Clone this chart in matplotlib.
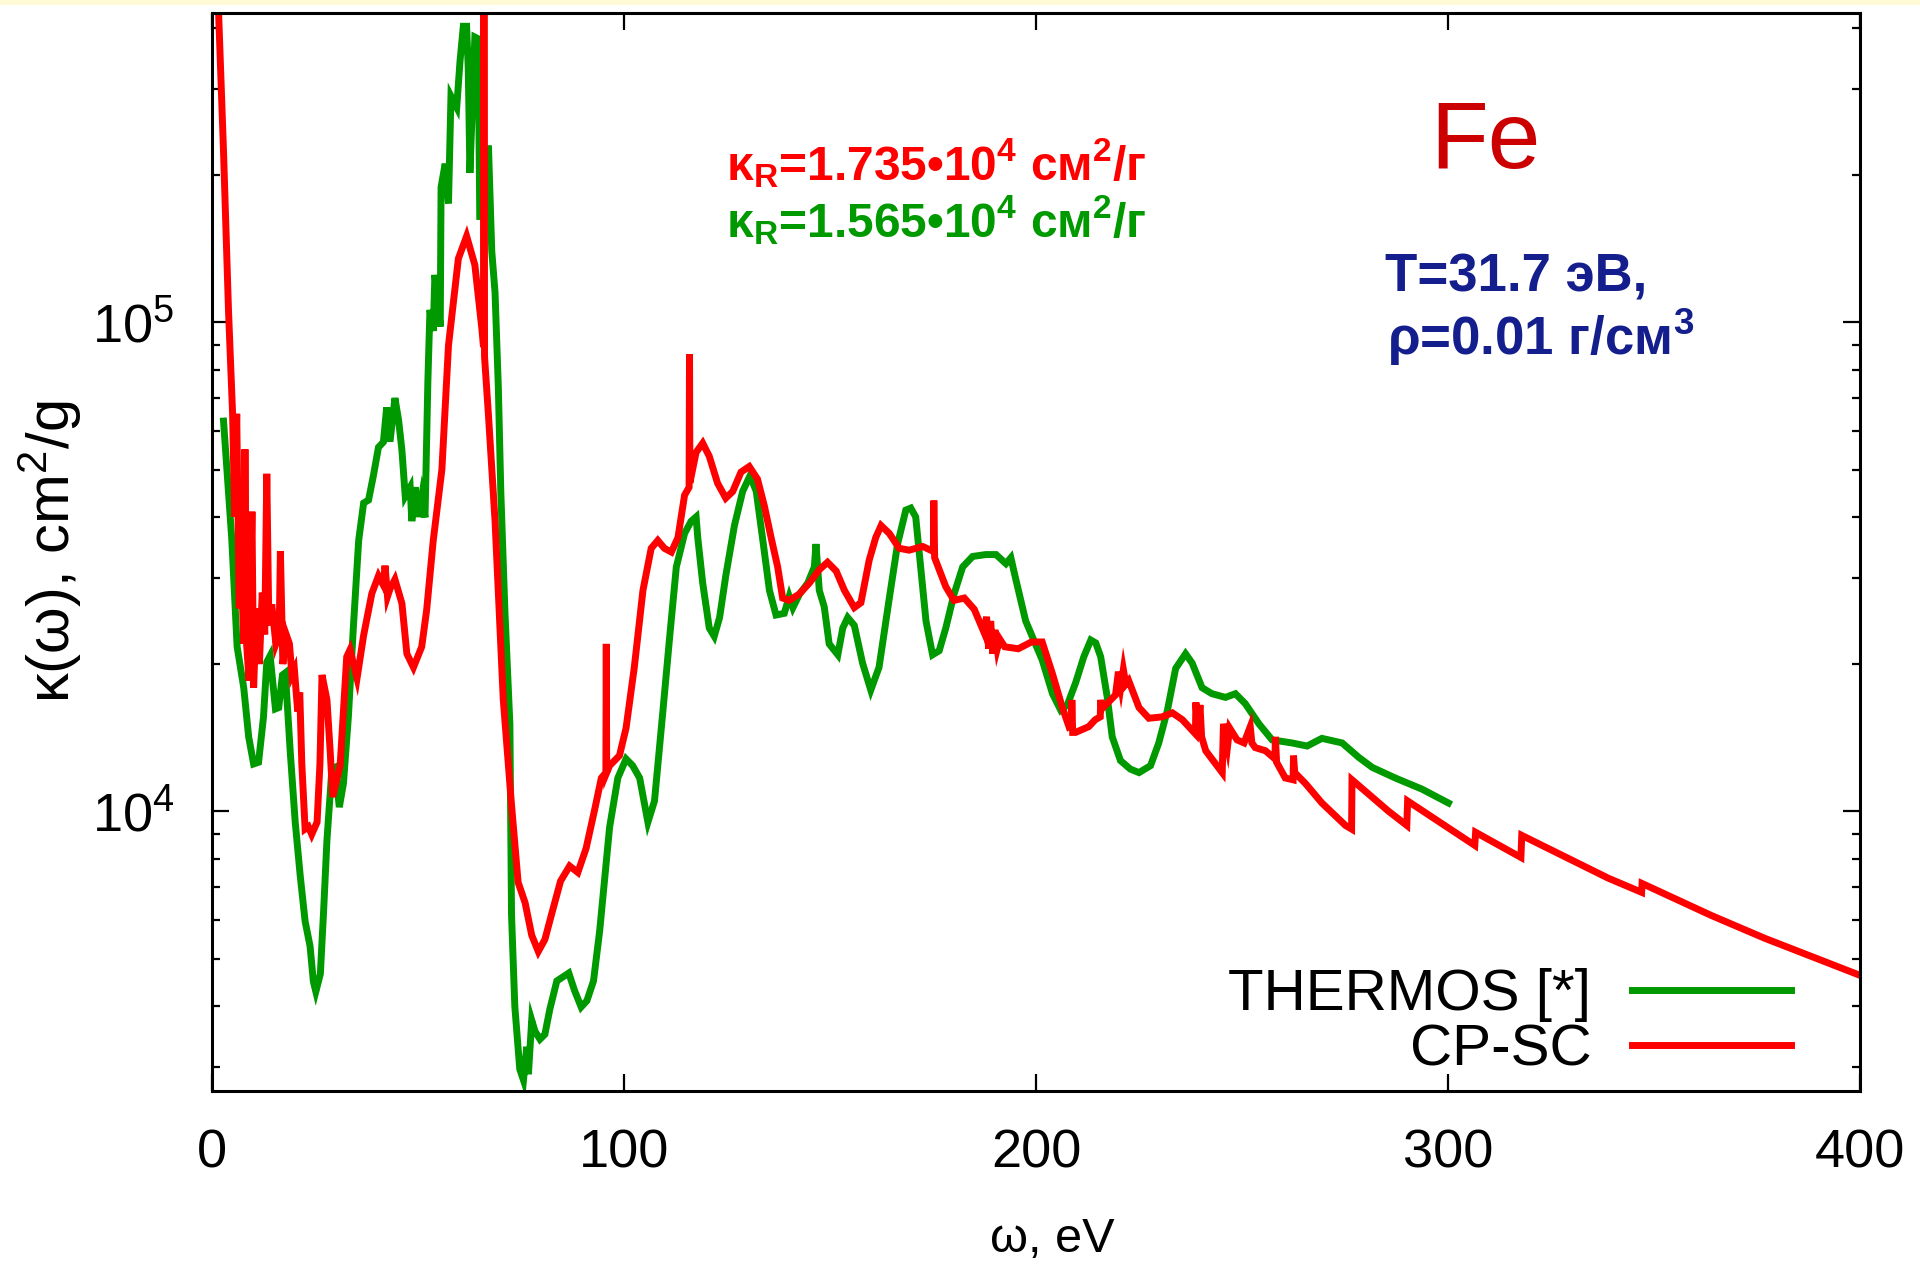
#Python script to redraw the Fe opacity comparison chart
import matplotlib
matplotlib.use('Agg')
import matplotlib.pyplot as plt
from matplotlib.ticker import LogLocator, NullFormatter, FixedLocator
from matplotlib.patches import Rectangle

# fonts
plt.rcParams['font.family'] = ['Liberation Sans', 'DejaVu Sans']
plt.rcParams['mathtext.fontset'] = 'custom'
plt.rcParams['mathtext.rm'] = 'Liberation Sans'
plt.rcParams['mathtext.it'] = 'Liberation Sans:italic'
plt.rcParams['mathtext.bf'] = 'Liberation Sans:bold'

# CP-SC curve (photon energy in eV, opacity in cm^2/g)
cpsc_ev = [0.8, 1.6, 2.8, 4.0, 5.0, 5.5, 6.0, 6.6, 7.2, 7.7, 8.0, 8.4, 9.0, 9.7, 10.1, 10.8,
           11.5, 12.2, 12.8, 13.3, 13.8, 14.5, 15.5, 16.3, 16.6, 17.2, 18.0, 18.8, 19.4, 20.0,
           20.8, 21.3, 21.8, 22.6, 23.4, 24.2, 25.5, 26.2, 26.7, 27.9, 28.7, 29.3, 31.1, 32.7,
           33.5, 35.2, 36.8, 38.8, 40.4, 41.6, 42.0, 42.6, 43.2, 44.4, 46.1, 47.3, 48.9, 50.9,
           52.1, 53.7, 55.8, 57.4, 59.8, 61.8, 63.8, 65.5, 65.9, 66.0, 66.15, 67.1, 68.7, 70.7,
           72.7, 74.3, 76.0, 77.6, 79.2, 80.8, 82.4, 84.6, 86.8, 88.8, 90.8, 92.9, 94.5, 95.6,
           95.7, 95.8, 96.5, 98.9, 100.5, 102.5, 104.6, 106.6, 108.2, 109.8, 111.5, 113.1,
           114.7, 115.8, 115.9, 116.0, 117.5, 119.1, 120.7, 122.7, 124.7, 126.4, 128.4, 130.4,
           132.4, 134.1, 135.7, 137.3, 138.5, 140.1, 142.5, 145.0, 147.4, 149.4, 151.5, 153.5,
           155.9, 157.5, 159.5, 161.1, 162.4, 164.4, 166.8, 169.2, 172.5, 175.1, 175.2, 175.4,
           178.1, 180.1, 182.6, 185.0, 187.4, 188.0, 188.5, 189.0, 189.5, 190.0, 190.6, 191.2,
           192.4, 195.7, 198.9, 201.5, 204.0, 206.4, 208.0, 208.6, 208.7, 208.9, 209.6, 212.8,
           214.4, 215.6, 215.7, 216.0, 219.3, 220.0, 220.6, 221.2, 221.8, 222.5, 225.0, 227.4,
           230.6, 233.1, 235.5, 238.7, 238.8, 239.3, 239.8, 240.2, 241.2, 245.2, 245.5, 246.5,
           247.0, 248.8, 250.5, 252.0, 252.4, 253.2, 255.7, 258.0, 258.1, 258.4, 260.5, 262.4,
           262.5, 262.8, 265.4, 269.4, 275.1, 276.6, 276.7, 285.6, 290.0, 290.2, 306.5, 306.7,
           317.7, 317.9, 338.9, 347.0, 347.1, 364.0, 376.9, 400.0]
cpsc_kappa = [8.0e5, 4.3e5, 2.23e5, 1.06e5, 6.5e4, 4.0e4, 6.5e4, 2.6e4, 3.0e4, 2.2e4, 5.5e4, 2.2e4,
              1.85e4, 4.1e4, 1.79e4, 2.6e4, 2.0e4, 2.8e4, 2.3e4, 4.9e4, 2.4e4, 2.65e4, 2.2e4,
              2.3e4, 3.4e4, 2.0e4, 2.3e4, 2.2e4, 1.9e4, 1.95e4, 1.6e4, 1.75e4, 1.25e4, 9.2e3,
              9.3e3, 8.97e3, 9.5e3, 1.25e4, 1.9e4, 1.69e4, 1.32e4, 1.07e4, 1.24e4, 2.07e4, 2.14e4,
              1.87e4, 2.29e4, 2.79e4, 3.03e4, 2.9e4, 3.18e4, 2.75e4, 2.85e4, 2.98e4, 2.66e4,
              2.1e4, 1.97e4, 2.17e4, 2.58e4, 3.58e4, 5.0e4, 8.97e4, 1.35e5, 1.5e5, 1.31e5, 9.7e4,
              8.9e4, 9.0e5, 8.5e4, 6.46e4, 3.92e4, 1.69e4, 1.03e4, 7.16e3, 6.5e3, 5.58e3, 5.17e3,
              5.47e3, 6.15e3, 7.2e3, 7.73e3, 7.5e3, 8.4e3, 1.01e4, 1.17e4, 1.2e4, 2.2e4, 1.2e4,
              1.24e4, 1.3e4, 1.48e4, 1.97e4, 2.83e4, 3.45e4, 3.58e4, 3.45e4, 3.39e4, 3.63e4,
              4.43e4, 4.6e4, 8.6e4, 4.7e4, 5.42e4, 5.66e4, 5.32e4, 4.69e4, 4.37e4, 4.51e4, 4.94e4,
              5.07e4, 4.78e4, 4.2e4, 3.63e4, 3.16e4, 2.73e4, 2.7e4, 2.78e4, 2.93e4, 3.12e4,
              3.23e4, 3.1e4, 2.83e4, 2.61e4, 2.67e4, 3.26e4, 3.63e4, 3.84e4, 3.7e4, 3.45e4,
              3.42e4, 3.48e4, 3.4e4, 4.32e4, 3.3e4, 2.88e4, 2.7e4, 2.73e4, 2.59e4, 2.32e4, 2.5e4,
              2.15e4, 2.45e4, 2.1e4, 2.35e4, 2.15e4, 2.25e4, 2.17e4, 2.15e4, 2.22e4, 2.22e4,
              1.91e4, 1.63e4, 1.49e4, 1.5e4, 1.69e4, 1.45e4, 1.45e4, 1.49e4, 1.54e4, 1.56e4,
              1.69e4, 1.62e4, 1.73e4, 1.93e4, 1.8e4, 1.95e4, 1.82e4, 1.85e4, 1.63e4, 1.55e4,
              1.56e4, 1.59e4, 1.54e4, 1.44e4, 1.67e4, 1.45e4, 1.65e4, 1.42e4, 1.33e4, 1.2e4,
              1.51e4, 1.36e4, 1.48e4, 1.4e4, 1.38e4, 1.49e4, 1.38e4, 1.35e4, 1.33e4, 1.28e4,
              1.42e4, 1.26e4, 1.17e4, 1.16e4, 1.3e4, 1.2e4, 1.14e4, 1.04e4, 9.36e3, 9.2e3,
              1.16e4, 1.0e4, 9.36e3, 1.05e4, 8.52e3, 9.06e3, 8.05e3, 8.93e3, 7.3e3, 6.83e3,
              7.12e3, 6.12e3, 5.5e3, 4.62e3]

# THERMOS curve
thermos_ev = [2.8, 4.8, 6.1, 7.7, 8.9, 10.1, 11.3, 12.5, 13.3, 14.1, 15.4, 16.2, 17.1, 17.8,
              19.0, 20.2, 21.4, 22.6, 23.8, 24.6, 25.2, 26.3, 27.1, 27.9, 29.1, 29.9, 30.9,
              31.9, 33.1, 34.3, 35.6, 36.8, 38.0, 39.2, 40.4, 41.6, 42.4, 43.2, 44.4, 45.3,
              46.1, 46.9, 48.1, 48.5, 49.3, 50.1, 50.9, 51.7, 52.4, 52.9, 53.7, 54.1, 55.4,
              55.6, 56.6, 57.4, 58.0, 59.4, 60.2, 61.0, 61.8, 62.2, 62.6, 63.8, 64.6, 65.0,
              67.1, 67.9, 68.7, 69.5, 70.1, 71.1, 72.3, 72.7, 73.5, 74.7, 75.6, 76.4, 76.8,
              77.6, 78.4, 79.6, 80.8, 82.0, 83.7, 86.6, 88.0, 89.6, 91.0, 92.6, 94.1, 96.5,
              98.5, 100.5, 102.1, 103.8, 105.8, 107.4, 109.4, 111.1, 112.7, 114.7, 116.3,
              117.5, 117.9, 119.1, 120.7, 121.9, 123.2, 124.7, 126.8, 128.8, 130.6, 132.1,
              133.7, 135.3, 136.9, 138.9, 140.1, 141.0, 142.6, 144.6, 146.2, 146.6, 147.4,
              148.6, 149.8, 151.9, 153.1, 154.3, 155.9, 157.9, 159.9, 161.9, 164.4, 166.4,
              168.4, 169.6, 170.8, 172.0, 173.3, 174.9, 176.5, 178.1, 180.1, 182.2, 184.6,
              187.8, 190.3, 192.7, 193.9, 195.1, 197.5, 201.5, 204.0, 206.0, 207.6, 209.6,
              211.6, 213.3, 214.5, 215.7, 217.3, 218.5, 220.5, 222.9, 225.0, 227.8, 229.8,
              231.9, 233.9, 236.3, 237.9, 240.3, 242.7, 246.0, 248.4, 250.8, 254.1, 257.3,
              262.1, 265.8, 269.4, 274.3, 278.3, 281.6, 287.2, 293.7, 300.1]
thermos_kappa = [6.28e4, 3.6e4, 2.17e4, 1.79e4, 1.42e4, 1.25e4, 1.26e4, 1.56e4, 2.02e4, 2.08e4,
                 1.62e4, 1.63e4, 1.9e4, 1.92e4, 1.32e4, 9.5e3, 7.4e3, 5.96e3, 5.3e3, 4.49e3,
                 4.28e3, 4.65e3, 6.28e3, 8.73e3, 1.22e4, 1.23e4, 1.02e4, 1.14e4, 1.56e4, 2.37e4,
                 3.58e4, 4.27e4, 4.33e4, 4.87e4, 5.55e4, 5.69e4, 6.7e4, 5.7e4, 7.0e4, 6.3e4,
                 5.47e4, 4.41e4, 4.6e4, 3.92e4, 4.6e4, 4.0e4, 4.4e4, 3.99e4, 7.6e4, 1.06e5,
                 9.6e4, 1.25e5, 9.8e4, 1.89e5, 2.11e5, 1.75e5, 2.9e5, 2.75e5, 3.42e5, 4.03e5,
                 4.03e5, 3.3e5, 2.02e5, 3.83e5, 3.8e5, 1.62e5, 2.3e5, 1.4e5, 1.15e5, 7.36e4,
                 4.5e4, 2.56e4, 1.51e4, 6.15e3, 3.99e3, 2.97e3, 2.82e3, 3.3e3, 2.9e3, 3.74e3,
                 3.55e3, 3.42e3, 3.5e3, 3.94e3, 4.5e3, 4.67e3, 4.3e3, 3.98e3, 4.1e3, 4.5e3,
                 5.7e3, 9.27e3, 1.17e4, 1.28e4, 1.24e4, 1.17e4, 9.5e3, 1.05e4, 1.59e4, 2.28e4,
                 3.16e4, 3.7e4, 3.92e4, 4.0e4, 3.63e4, 2.93e4, 2.37e4, 2.28e4, 2.49e4, 3.03e4,
                 3.84e4, 4.51e4, 4.86e4, 4.51e4, 3.58e4, 2.83e4, 2.52e4, 2.54e4, 2.75e4, 2.61e4,
                 2.78e4, 2.93e4, 3.16e4, 3.52e4, 2.83e4, 2.62e4, 2.2e4, 2.09e4, 2.37e4, 2.49e4,
                 2.4e4, 2.01e4, 1.77e4, 1.97e4, 2.73e4, 3.52e4, 4.13e4, 4.17e4, 4.0e4, 3.16e4,
                 2.45e4, 2.09e4, 2.13e4, 2.37e4, 2.78e4, 3.16e4, 3.32e4, 3.35e4, 3.35e4, 3.21e4,
                 3.3e4, 2.98e4, 2.45e4, 2.04e4, 1.74e4, 1.61e4, 1.65e4, 1.83e4, 2.07e4, 2.24e4,
                 2.21e4, 2.07e4, 1.71e4, 1.42e4, 1.27e4, 1.22e4, 1.2e4, 1.24e4, 1.38e4, 1.61e4,
                 1.96e4, 2.1e4, 2.01e4, 1.79e4, 1.74e4, 1.71e4, 1.74e4, 1.66e4, 1.51e4, 1.4e4,
                 1.38e4, 1.36e4, 1.41e4, 1.38e4, 1.29e4, 1.23e4, 1.17e4, 1.11e4, 1.04e4]

# labels
series_labels = ['THERMOS [*]', 'CP-SC']
x_ticks = [0, 100, 200, 300, 400]

# figure
fig = plt.figure(figsize=(19.2, 12.66), dpi=100)
fig.patches.append(Rectangle((0, 1 - 5 / 1266), 1, 5 / 1266, transform=fig.transFigure,
                             facecolor='#fffad5', edgecolor='none', zorder=0))
ax = fig.add_axes([212 / 1920, 1 - 1091 / 1266, 1648 / 1920, 1078.5 / 1266])

ax.plot(thermos_ev, thermos_kappa, color='#009900', lw=5, label=series_labels[0],
        solid_joinstyle='miter')
ax.plot(cpsc_ev, cpsc_kappa, color='#ff0000', lw=5, label=series_labels[1],
        solid_joinstyle='miter')

ax.set_yscale('log')
ax.set_xlim(0, 400)
ax.set_ylim(2680, 4.3e5)
ax.xaxis.set_major_locator(FixedLocator(x_ticks))
ax.yaxis.set_minor_locator(LogLocator(base=10, subs=range(2, 10)))
ax.yaxis.set_minor_formatter(NullFormatter())

for s in ax.spines.values():
    s.set_linewidth(2.2)
ax.tick_params(which='both', direction='in', top=True, right=True, width=1.6, labelsize=39)
ax.tick_params(axis='x', pad=27)
ax.tick_params(axis='y', pad=27)
ax.tick_params(which='major', length=12)
ax.tick_params(which='minor', length=6)

ax.set_xlabel('ω, eV', fontsize=35)
ax.xaxis.label.set_va('center')
ax.xaxis.set_label_coords(0.510, -0.138)
ax.set_ylabel('κ(ω), cm$^2$/g', fontsize=43)
ax.yaxis.label.set_va('center')
ax.yaxis.set_label_coords(-0.098, 0.5)

# legend, right aligned like gnuplot
leg = ax.legend(loc='center right', bbox_to_anchor=(0.958, 0.0634), frameon=False,
                markerfirst=False, fontsize=42, handlelength=2.73, handletextpad=0.69,
                labelspacing=0.02, borderpad=0, borderaxespad=0)

# annotations
fig.text(1430 / 1920, 1 - 168 / 1266, 'Fe', fontsize=68, color='#cc0000', va='baseline')
fig.text(1385 / 1920, 1 - 292 / 1266, 'T=31.7 эВ,', fontsize=38, fontweight='bold',
         color='#141e8c', va='baseline')
fig.text(1387 / 1920, 1 - 355 / 1266, 'ρ=0.01 г/см$^\\mathbf{3}$', fontsize=38,
         fontweight='bold', color='#141e8c', va='baseline')
fig.text(726 / 1920, 1 - 180 / 1266, 'κ$_\\mathbf{R}$=1.735•10$^\\mathbf{4}$ см$^\\mathbf{2}$/г',
         fontsize=34.5, fontweight='bold', color='#ff0000', va='baseline')
fig.text(726 / 1920, 1 - 237 / 1266, 'κ$_\\mathbf{R}$=1.565•10$^\\mathbf{4}$ см$^\\mathbf{2}$/г',
         fontsize=34.5, fontweight='bold', color='#009900', va='baseline')

fig.savefig('out.png', dpi=100)
